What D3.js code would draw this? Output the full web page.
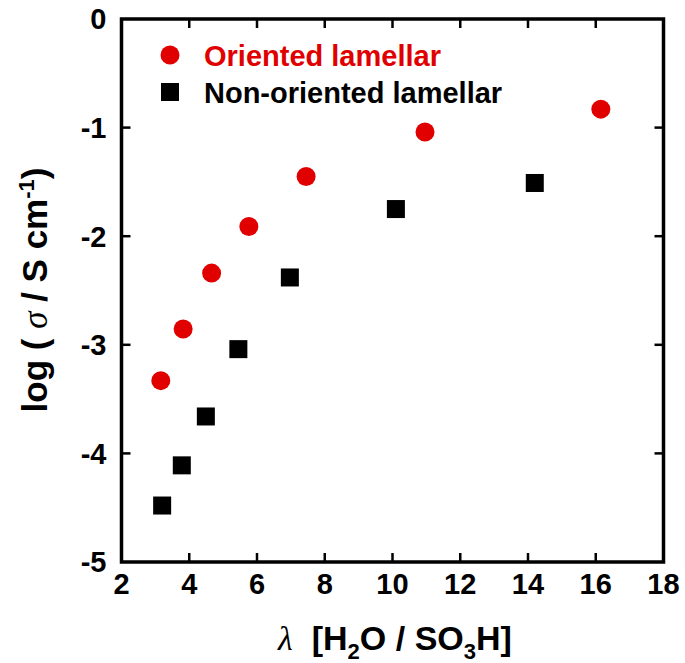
<!DOCTYPE html>
<html>
<head>
<meta charset="utf-8">
<script src="https://cdn.jsdelivr.net/npm/d3@7"></script>
<style>
  body { margin: 0; background: #fff; }
  text { font-family: "Liberation Sans", Arial, sans-serif; }
</style>
</head>
<body>
<script>
// data
var orientedLambda = [3.16, 3.82, 4.66, 5.76, 7.45, 10.96, 16.15];
var orientedLogS   = [-3.33, -2.855, -2.34, -1.91, -1.45, -1.04, -0.83];
var nonOrientedLambda = [3.20, 3.78, 4.49, 5.45, 6.97, 10.10, 14.20];
var nonOrientedLogS   = [-4.48, -4.11, -3.66, -3.04, -2.38, -1.75, -1.51];
var xTicks = [2, 4, 6, 8, 10, 12, 14, 16, 18];
var yTicks = [0, -1, -2, -3, -4, -5];
var legendLabels = ["Oriented lamellar", "Non-oriented lamellar"];

var red = "#e00000";

var width = 685, height = 663;
var margin = {left: 121.5, right: 21.5, top: 19, bottom: 101};

var svg = d3.select("body").append("svg")
    .attr("width", width)
    .attr("height", height);

var x = d3.scaleLinear().domain([2, 18]).range([margin.left, width - margin.right]);
var y = d3.scaleLinear().domain([-5, 0]).range([height - margin.bottom, margin.top]);

// frame
svg.append("rect")
    .attr("x", x(2))
    .attr("y", y(0))
    .attr("width", x(18) - x(2))
    .attr("height", y(-5) - y(0))
    .attr("fill", "none")
    .attr("stroke", "#000")
    .attr("stroke-width", 3.5);

// ticks pointing inward on all four sides
var tickLen = 9;
svg.selectAll(".xt-b").data(xTicks.slice(1, -1)).enter().append("line")
    .attr("x1", d => x(d)).attr("x2", d => x(d))
    .attr("y1", y(-5)).attr("y2", y(-5) - tickLen)
    .attr("stroke", "#000").attr("stroke-width", 2.5);
svg.selectAll(".xt-t").data(xTicks.slice(1, -1)).enter().append("line")
    .attr("x1", d => x(d)).attr("x2", d => x(d))
    .attr("y1", y(0)).attr("y2", y(0) + tickLen)
    .attr("stroke", "#000").attr("stroke-width", 2.5);
svg.selectAll(".yt-l").data(yTicks.slice(1, -1)).enter().append("line")
    .attr("x1", x(2)).attr("x2", x(2) + tickLen)
    .attr("y1", d => y(d)).attr("y2", d => y(d))
    .attr("stroke", "#000").attr("stroke-width", 2.5);
svg.selectAll(".yt-r").data(yTicks.slice(1, -1)).enter().append("line")
    .attr("x1", x(18)).attr("x2", x(18) - tickLen)
    .attr("y1", d => y(d)).attr("y2", d => y(d))
    .attr("stroke", "#000").attr("stroke-width", 2.5);

// tick labels
svg.selectAll(".xl").data(xTicks).enter().append("text")
    .attr("x", d => x(d))
    .attr("y", y(-5) + 32)
    .attr("text-anchor", "middle")
    .style("font-size", "29px")
    .style("font-weight", "bold")
    .text(d => d);

svg.selectAll(".yl").data(yTicks).enter().append("text")
    .attr("x", x(2) - 15)
    .attr("y", d => y(d))
    .attr("dy", "0.36em")
    .attr("text-anchor", "end")
    .style("font-size", "29px")
    .style("font-weight", "bold")
    .text(d => d);

// axis titles
var xt = svg.append("text")
    .attr("x", 395)
    .attr("y", 650)
    .attr("text-anchor", "middle")
    .style("font-size", "34px")
    .style("font-weight", "bold");
xt.append("tspan").style("font-style", "italic").style("font-weight", "normal")
    .style("font-family", "'Liberation Serif', serif").text("λ");
xt.append("tspan").text("\u00a0 [H");
xt.append("tspan").attr("dy", 9).style("font-size", "22px").text("2");
xt.append("tspan").attr("dy", -9).text("O / SO");
xt.append("tspan").attr("dy", 9).style("font-size", "22px").text("3");
xt.append("tspan").attr("dy", -9).text("H]");

var yt = svg.append("text")
    .attr("transform", "translate(47," + 290 + ") rotate(-90)")
    .attr("text-anchor", "middle")
    .style("font-size", "35px")
    .style("font-weight", "bold");
yt.append("tspan").text("log ( ");
yt.append("tspan").style("font-style", "italic").style("font-weight", "normal")
    .style("font-family", "'Liberation Serif', serif").text("σ");
yt.append("tspan").text(" / S cm");
yt.append("tspan").attr("dy", -13).style("font-size", "22px").text("-1");
yt.append("tspan").attr("dy", 13).text(")");

// data points
var oriented = orientedLambda.map((d, i) => ({x: d, y: orientedLogS[i]}));
var nonOriented = nonOrientedLambda.map((d, i) => ({x: d, y: nonOrientedLogS[i]}));

var sq = 18;
svg.selectAll(".sq").data(nonOriented).enter().append("rect")
    .attr("x", d => x(d.x) - sq / 2)
    .attr("y", d => y(d.y) - sq / 2)
    .attr("width", sq).attr("height", sq)
    .attr("fill", "#000");

svg.selectAll(".dot").data(oriented).enter().append("circle")
    .attr("cx", d => x(d.x))
    .attr("cy", d => y(d.y))
    .attr("r", 9.5)
    .attr("fill", red);

// legend
var legend = svg.append("g");
legend.append("circle").attr("cx", 170).attr("cy", 55).attr("r", 9.5).attr("fill", red);
legend.append("text").attr("x", 204).attr("y", 66)
    .style("font-size", "29px").style("font-weight", "bold").attr("fill", red)
    .text(legendLabels[0]);
legend.append("rect").attr("x", 161).attr("y", 83).attr("width", sq).attr("height", sq).attr("fill", "#000");
legend.append("text").attr("x", 204).attr("y", 103)
    .style("font-size", "29px").style("font-weight", "bold").attr("fill", "#000")
    .text(legendLabels[1]);
</script>
</body>
</html>
